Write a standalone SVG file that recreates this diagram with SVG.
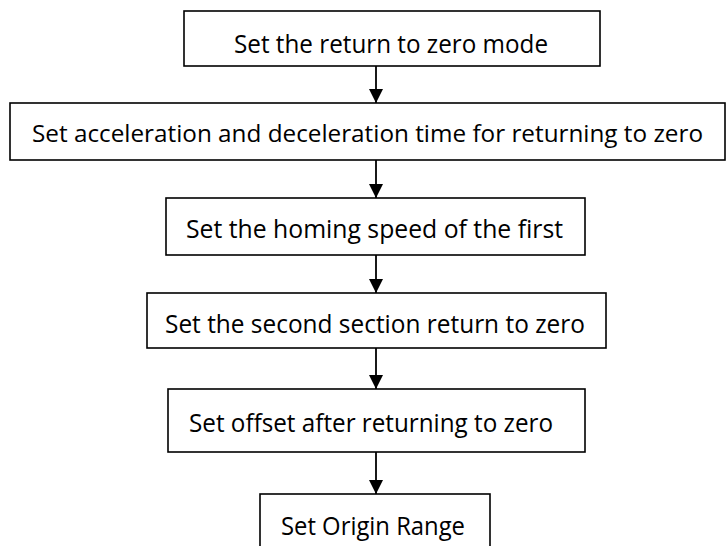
<svg xmlns="http://www.w3.org/2000/svg" width="727" height="546" viewBox="0 0 727 546">
<style>
.box{fill:#fff;stroke:#000;stroke-width:1.6}
.lbl{font-family:"Open Sans","Noto Sans","Liberation Sans",sans-serif;font-size:25.5px;fill:#000}
.edge{stroke:#000;stroke-width:1.8;fill:none}
</style>
<defs>
<marker id="ah" markerUnits="userSpaceOnUse" markerWidth="14" markerHeight="15" refX="14" refY="7" orient="auto" viewBox="0 0 14 14">
<path d="M0,0 L14,7 L0,14 Z" fill="#000"/>
</marker>
</defs>
<rect width="727" height="546" fill="#fff"/>
<g id="connectors">
<line class="edge" x1="376" y1="66" x2="376" y2="103" marker-end="url(#ah)"/>
<line class="edge" x1="376" y1="160" x2="376" y2="198" marker-end="url(#ah)"/>
<line class="edge" x1="376" y1="255" x2="376" y2="293" marker-end="url(#ah)"/>
<line class="edge" x1="376" y1="348" x2="376" y2="389" marker-end="url(#ah)"/>
<line class="edge" x1="376" y1="452" x2="376" y2="494" marker-end="url(#ah)"/>
</g>
<g id="n1">
<rect class="box" x="184" y="11" width="416" height="55"/>
<text class="lbl" x="234" y="53" textLength="314" lengthAdjust="spacingAndGlyphs">Set the return to zero mode</text>
</g>
<g id="n2">
<rect class="box" x="10" y="103" width="715" height="57"/>
<text class="lbl" x="32" y="142" style="font-size:24px" textLength="671" lengthAdjust="spacingAndGlyphs">Set acceleration and deceleration time for returning to zero</text>
</g>
<g id="n3">
<rect class="box" x="166" y="198" width="419" height="57"/>
<text class="lbl" x="186" y="238" textLength="377" lengthAdjust="spacingAndGlyphs">Set the homing speed of the first</text>
</g>
<g id="n4">
<rect class="box" x="147" y="293" width="459" height="55"/>
<text class="lbl" x="165" y="333" textLength="420" lengthAdjust="spacingAndGlyphs">Set the second section return to zero</text>
</g>
<g id="n5">
<rect class="box" x="168" y="389" width="417" height="63"/>
<text class="lbl" x="189" y="432" textLength="364" lengthAdjust="spacingAndGlyphs">Set offset after returning to zero</text>
</g>
<g id="n6">
<rect class="box" x="260" y="494" width="230" height="60"/>
<text class="lbl" x="281" y="535" textLength="184" lengthAdjust="spacingAndGlyphs">Set Origin Range</text>
</g>
</svg>
